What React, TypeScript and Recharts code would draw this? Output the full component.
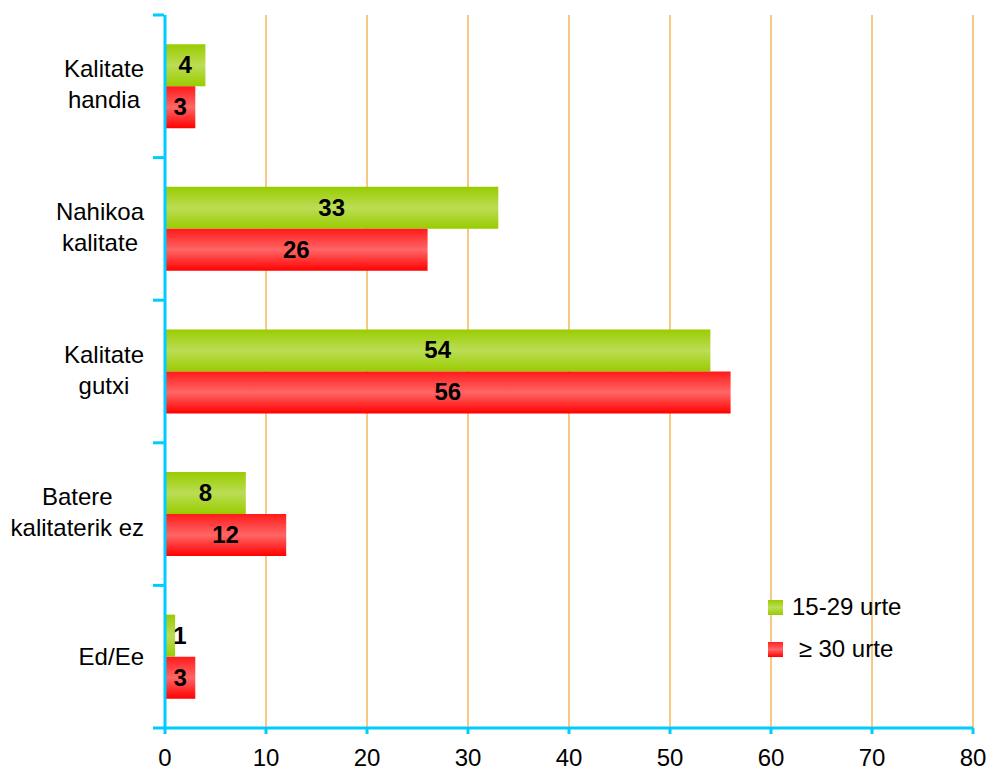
import { BarChart, Bar, XAxis, YAxis, CartesianGrid, LabelList } from 'recharts';

// Categories (top to bottom) and series values
const categories: string[][] = [
  ['Kalitate', 'handia'],
  ['Nahikoa', 'kalitate'],
  ['Kalitate', 'gutxi'],
  ['Batere', 'kalitaterik ez'],
  ['Ed/Ee'],
];
const young: number[] = [4, 33, 54, 8, 1];
const older: number[] = [3, 26, 56, 12, 3];
const xTicks: number[] = [0, 10, 20, 30, 40, 50, 60, 70, 80];
const seriesNames = ['15-29 urte', ' \u2265 30 urte'];

const data = categories.map((lines, i) => ({
  name: lines.join(' '),
  young: young[i],
  older: older[i],
}));

const W = 991;
const H = 776;
const TOP = 15;
const BOTTOM = 48;
const BAND = (H - TOP - BOTTOM) / categories.length;
const AXIS = '#00CCFF';
const FONT = 'Arial, "Liberation Sans", sans-serif';
const LABEL_RIGHT = 144;

// width of the widest line, so the label block sits right-aligned with its lines centred
let ctx: CanvasRenderingContext2D | null = null;
const textWidth = (s: string) => {
  if (!ctx) ctx = document.createElement('canvas').getContext('2d');
  if (!ctx) return s.length * 12;
  ctx.font = `24px ${FONT}`;
  return ctx.measureText(s).width;
};

// Excel-style: tick marks sit between categories, on the outside of the axis
const YTick = ({ x, y, index }: any) => {
  const lines = categories[index] || [];
  const top = y - BAND / 2;
  const maxW = Math.max(...lines.map(textWidth));
  const cx = LABEL_RIGHT - maxW / 2;
  return (
    <g>
      <line x1={x - 10} x2={x + 1} y1={top} y2={top} stroke={AXIS} strokeWidth={3} />
      {index === categories.length - 1 && (
        <line x1={x - 10} x2={x + 1} y1={top + BAND} y2={top + BAND} stroke={AXIS} strokeWidth={3} />
      )}
      <text x={cx} y={y} textAnchor="middle" fontSize={24} fontFamily={FONT} fill="#000">
        {lines.map((l: string, k: number) => (
          <tspan key={k} x={cx} dy={k === 0 ? (lines.length === 1 ? 8 : -9) : 31}>
            {l}
          </tspan>
        ))}
      </text>
    </g>
  );
};

const XTick = ({ x, y, payload }: any) => (
  <text x={x} y={y + 30} textAnchor="middle" fontSize={24} fontFamily={FONT} fill="#000">
    {payload.value}
  </text>
);

const BarLabel = ({ x, y, width, height, value }: any) => {
  const cx = Math.max(x + width / 2, x + 15);
  return (
    <text
      x={cx}
      y={y + height / 2 + 8}
      textAnchor="middle"
      fontSize={24}
      fontWeight="bold"
      fontFamily={FONT}
      fill="#000"
    >
      {value}
    </text>
  );
};

const LegendBox = () => (
  <div
    style={{
      position: 'absolute',
      left: 768,
      top: 586,
      fontFamily: FONT,
      fontSize: 24,
      color: '#000',
    }}
  >
    {seriesNames.map((n, i) => (
      <div key={n} style={{ display: 'flex', alignItems: 'center', height: 42, whiteSpace: 'pre' }}>
        <span
          style={{
            width: 15,
            height: 15,
            marginRight: 9,
            background:
              i === 0
                ? 'linear-gradient(#99CC00, #BBDD55, #99CC00)'
                : 'linear-gradient(#FF2222, #FF6666, #FF0000)',
          }}
        />
        {n}
      </div>
    ))}
  </div>
);

export default function App() {
  return (
    <div style={{ position: 'absolute', left: 0, top: 0, width: W, height: H, background: '#fff' }}>
      <BarChart
        width={W}
        height={H}
        data={data}
        layout="vertical"
        margin={{ top: TOP, right: 18, bottom: 0, left: 10 }}
        barCategoryGap="20.5%"
        barGap={0}
      >
        <defs>
          <linearGradient id="gGreen" x1="0" y1="0" x2="0" y2="1">
            <stop offset="0%" stopColor="#99CC00" />
            <stop offset="50%" stopColor="#BBDD55" />
            <stop offset="100%" stopColor="#99CC00" />
          </linearGradient>
          <linearGradient id="gRed" x1="0" y1="0" x2="0" y2="1">
            <stop offset="0%" stopColor="#FF1A1A" />
            <stop offset="50%" stopColor="#FF6666" />
            <stop offset="100%" stopColor="#FF0000" />
          </linearGradient>
        </defs>
        <CartesianGrid horizontal={false} stroke="#F4A530" strokeWidth={1.2} />
        <XAxis
          type="number"
          domain={[0, 80]}
          ticks={xTicks}
          height={BOTTOM}
          axisLine={{ stroke: AXIS, strokeWidth: 3 }}
          tickLine={{ stroke: AXIS, strokeWidth: 3 }}
          tickSize={6}
          tick={<XTick />}
          interval={0}
        />
        <YAxis
          type="category"
          dataKey="name"
          width={155}
          axisLine={{ stroke: AXIS, strokeWidth: 3 }}
          tickLine={false}
          tickSize={0}
          tick={<YTick />}
          interval={0}
        />
        <Bar dataKey="young" name={seriesNames[0]} fill="url(#gGreen)" isAnimationActive={false}>
          <LabelList dataKey="young" content={<BarLabel />} />
        </Bar>
        <Bar dataKey="older" name={seriesNames[1]} fill="url(#gRed)" isAnimationActive={false}>
          <LabelList dataKey="older" content={<BarLabel />} />
        </Bar>
      </BarChart>
      <LegendBox />
    </div>
  );
}
